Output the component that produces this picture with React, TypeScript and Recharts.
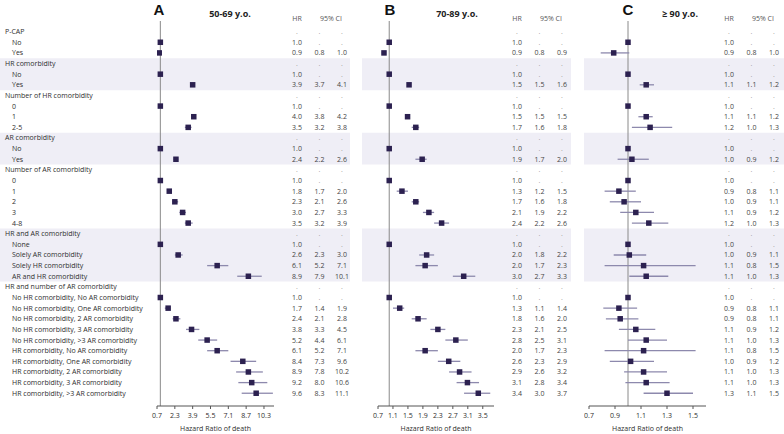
import React from "react";
import {
  ScatterChart,
  Scatter,
  XAxis,
  YAxis,
  ErrorBar,
  ReferenceLine,
  ReferenceArea,
} from "recharts";

const FONT = "'Open Sans', 'DejaVu Sans', sans-serif";
const MARKER = "#2c2150";
const CI_LINE = "#8d89ad";
const BAND = "#efeef6";
const TEXT = "#2e2e2e";

// row labels, top to bottom
const rowLabels = [
  "P-CAP", "No", "Yes",
  "HR comorbidity", "No", "Yes",
  "Number of HR comorbidity", "0", "1", "2-5",
  "AR comorbidity", "No", "Yes",
  "Number of AR comorbidity", "0", "1", "2", "3", "4-8",
  "HR and AR comorbidity", "None", "Solely AR comorbidity", "Solely HR comorbidity", "AR and HR comorbidity",
  "HR and number of AR comorbidity",
  "No HR comorbidity, No AR comorbidity",
  "No HR comorbidity, One AR comorbidity",
  "No HR comorbidity, 2 AR comorbidity",
  "No HR comorbidity, 3 AR comorbidity",
  "No HR comorbidity, >3 AR comorbidity",
  "HR comorbidity, No AR comorbidity",
  "HR comorbidity, One AR comorbidity",
  "HR comorbidity, 2 AR comorbidity",
  "HR comorbidity, 3 AR comorbidity",
  "HR comorbidity, >3 AR comorbidity",
];
const groupRows = [0, 3, 6, 10, 13, 19, 24];
const shadedGroups = [
  [3, 5],
  [10, 12],
  [19, 23],
];

// 50-69 y.o.
const hrA = [null, 1.0, 0.9, null, 1.0, 3.9, null, 1.0, 4.0, 3.5, null, 1.0, 2.4, null, 1.0, 1.8, 2.3, 3.0, 3.5, null, 1.0, 2.6, 6.1, 8.9, null, 1.0, 1.7, 2.4, 3.8, 5.2, 6.1, 8.4, 8.9, 9.2, 9.6];
const loA = [null, null, 0.8, null, null, 3.7, null, null, 3.8, 3.2, null, null, 2.2, null, null, 1.7, 2.1, 2.7, 3.2, null, null, 2.3, 5.2, 7.9, null, null, 1.4, 2.1, 3.3, 4.4, 5.2, 7.3, 7.8, 8.0, 8.3];
const hiA = [null, null, 1.0, null, null, 4.1, null, null, 4.2, 3.8, null, null, 2.6, null, null, 2.0, 2.6, 3.3, 3.9, null, null, 3.0, 7.1, 10.1, null, null, 1.9, 2.8, 4.5, 6.1, 7.1, 9.6, 10.2, 10.6, 11.1];

// 70-89 y.o.
const hrB = [null, 1.0, 0.86, null, 1.0, 1.53, null, 1.0, 1.49, 1.71, null, 1.0, 1.88, null, 1.0, 1.34, 1.71, 2.06, 2.4, null, 1.0, 2.0, 1.96, 2.99, null, 1.0, 1.28, 1.77, 2.3, 2.78, 1.96, 2.59, 2.88, 3.09, 3.38];
const loB = [null, null, 0.8, null, null, 1.48, null, null, 1.46, 1.6, null, null, 1.7, null, null, 1.2, 1.6, 1.9, 2.2, null, null, 1.8, 1.7, 2.7, null, null, 1.1, 1.6, 2.1, 2.5, 1.7, 2.3, 2.6, 2.8, 3.0];
const hiB = [null, null, 0.9, null, null, 1.58, null, null, 1.54, 1.8, null, null, 2.0, null, null, 1.5, 1.8, 2.2, 2.6, null, null, 2.2, 2.3, 3.3, null, null, 1.4, 2.0, 2.5, 3.1, 2.3, 2.9, 3.2, 3.4, 3.7];

// >= 90 y.o.
const hrC = [null, 1.0, 0.89, null, 1.0, 1.14, null, 1.0, 1.14, 1.17, null, 1.0, 1.03, null, 1.0, 0.93, 0.97, 1.06, 1.16, null, 1.0, 1.01, 1.12, 1.14, null, 1.0, 0.93, 0.94, 1.06, 1.14, 1.12, 1.02, 1.12, 1.14, 1.3];
const loC = [null, null, 0.79, null, null, 1.09, null, null, 1.08, 1.03, null, null, 0.92, null, null, 0.82, 0.86, 0.94, 1.03, null, null, 0.89, 0.82, 1.01, null, null, 0.81, 0.83, 0.93, 1.0, 0.82, 0.86, 0.97, 0.98, 1.12];
const hiC = [null, null, 1.01, null, null, 1.2, null, null, 1.19, 1.34, null, null, 1.16, null, null, 1.06, 1.1, 1.2, 1.31, null, null, 1.14, 1.52, 1.31, null, null, 1.07, 1.08, 1.21, 1.3, 1.52, 1.2, 1.3, 1.32, 1.5];

const ticksA = [0.7, 2.3, 3.9, 5.5, 7.1, 8.7, 10.3];
const ticksB = [0.7, 1.1, 1.5, 1.9, 2.3, 2.7, 3.1, 3.5];
const ticksC = [0.7, 0.9, 1.1, 1.3, 1.5];

const rowTicks = [-1, ...rowLabels.map((_, i) => i)];
const Y_DOMAIN = [-1, 35.2];

const fmt = (v: number | null) => (v == null ? "." : v.toFixed(1));

type PanelProps = {
  left: number;
  width: number;
  plotLeft: number;
  plotWidth: number;
  domain: [number, number];
  ticks: number[];
  hr: (number | null)[];
  lo: (number | null)[];
  hi: (number | null)[];
  showLabels?: boolean;
};

function Panel({ left, width, plotLeft, plotWidth, domain, ticks, hr, lo, hi, showLabels }: PanelProps) {
  const rightW = width - plotLeft - plotWidth;
  const unit = plotWidth / (domain[1] - domain[0]);
  const bandX1 = domain[0] - plotLeft / unit;
  const bandX2 = domain[1] + rightW / unit;

  const data = hr
    .map((v, i) =>
      v == null
        ? null
        : {
            x: v,
            y: i,
            err: [lo[i] == null ? 0 : v - (lo[i] as number), hi[i] == null ? 0 : (hi[i] as number) - v],
          }
    )
    .filter(Boolean) as { x: number; y: number; err: number[] }[];

  const labelTick = (p: any) => {
    const i = p.payload.value;
    if (i < 0) return <g />;
    const isGroup = groupRows.includes(i);
    return (
      <text
        x={isGroup ? 5 : 12}
        y={p.y}
        dy="0.35em"
        fontSize={7}
        fill={TEXT}
        style={{ fill: TEXT }}
        fontFamily={FONT}
        textAnchor="start"
      >
        {rowLabels[i]}
      </text>
    );
  };

  const numTick = (p: any) => {
    const i = p.payload.value;
    const x = p.x;
    if (i < 0) {
      return (
        <g fontSize={7} fontFamily={FONT} textAnchor="middle" style={{ fill: "#555" }}>
          <text x={x + 23} y={p.y - 2.5} dy="0.35em">HR</text>
          <text x={x + 57} y={p.y - 2.5} dy="0.35em">95% CI</text>
        </g>
      );
    }
    const col = (v: number | null) => ({ fill: v == null ? "#999" : "#444" });
    return (
      <g fontSize={7} fontFamily={FONT} textAnchor="middle">
        <text x={x + 23} y={p.y} dy="0.35em" style={col(hr[i])}>{fmt(hr[i])}</text>
        <text x={x + 45.5} y={p.y} dy="0.35em" style={col(lo[i])}>{fmt(lo[i])}</text>
        <text x={x + 68} y={p.y} dy="0.35em" style={col(hi[i])}>{fmt(hi[i])}</text>
      </g>
    );
  };

  return (
    <div style={{ position: "absolute", left, top: 0 }}>
      <ScatterChart
        width={width}
        height={434}
        margin={{ top: 21, right: 0, bottom: 0, left: showLabels ? 0 : plotLeft }}
      >
        {shadedGroups.map(([a, b]) => (
          <ReferenceArea
            key={a}
            yAxisId="r"
            x1={bandX1}
            x2={bandX2}
            y1={a - 0.5}
            y2={b + 0.5}
            fill={BAND}
            fillOpacity={1}
            stroke="none"
            ifOverflow="visible"
          />
        ))}
        <XAxis
          dataKey="x"
          type="number"
          domain={domain}
          ticks={ticks}
          interval={0}
          allowDataOverflow
          tickFormatter={(v: number) => v.toFixed(1)}
          tick={{ fontSize: 7, fill: TEXT, fontFamily: FONT }}
          tickSize={3}
          tickMargin={4}
          stroke="#555"
          height={28}
          label={{
            value: "Hazard Ratio of death",
            position: "insideBottom",
            offset: 3,
            fontSize: 7,
            fill: TEXT,
            fontFamily: FONT,
          }}
        />
        {showLabels && (
          <YAxis
            yAxisId="l"
            dataKey="y"
            type="number"
            domain={Y_DOMAIN}
            reversed
            allowDataOverflow
            ticks={rowTicks}
            interval={0}
            width={plotLeft}
            axisLine={false}
            tickLine={false}
            tick={labelTick}
          />
        )}
        <YAxis
          yAxisId="r"
          orientation="right"
          dataKey="y"
          type="number"
          domain={Y_DOMAIN}
          reversed
          allowDataOverflow
          ticks={rowTicks}
          interval={0}
          width={rightW}
          axisLine={false}
          tickLine={false}
          tickSize={0}
          tickMargin={0}
          tick={numTick}
        />
        <ReferenceLine yAxisId="r" x={1} stroke="#8a8a8a" strokeWidth={1} />
        <Scatter
          yAxisId="r"
          data={data}
          isAnimationActive={false}
          shape={(p: any) => (
            <rect x={p.cx - 2.75} y={p.cy - 2.75} width={5.5} height={5.5} fill={MARKER} />
          )}
        >
          <ErrorBar dataKey="err" direction="x" width={0} stroke={CI_LINE} strokeWidth={1.3} isAnimationActive={false} />
        </Scatter>
      </ScatterChart>
    </div>
  );
}

export default function App() {
  return (
    <div style={{ position: "absolute", left: 0, top: 0, width: 784, height: 434, background: "#fff", fontFamily: FONT }}>
      <Panel left={0} width={350} plotLeft={157} plotWidth={117} domain={[0.7, 11.2]} ticks={ticksA} hr={hrA} lo={loA} hi={hiA} showLabels />
      <Panel left={362} width={209} plotLeft={16} plotWidth={116} domain={[0.7, 3.8]} ticks={ticksB} hr={hrB} lo={loB} hi={hiB} />
      <Panel left={584} width={200} plotLeft={5} plotWidth={117} domain={[0.7, 1.6]} ticks={ticksC} hr={hrC} lo={loC} hi={hiC} />
      <svg width={784} height={434} style={{ position: "absolute", left: 0, top: 0, pointerEvents: "none" }}>
        <g fontFamily="'Liberation Sans', Arial, sans-serif" fontWeight="bold" fontSize={15} fill="#111" textAnchor="middle">
          <text x={159} y={14.5}>A</text>
          <text x={390} y={14.5}>B</text>
          <text x={628} y={14.5}>C</text>
        </g>
        <g fontFamily={FONT} fontWeight="bold" fontSize={9} fill="#222" textAnchor="middle">
          <text x={230} y={17}>50-69 y.o.</text>
          <text x={457} y={17}>70-89 y.o.</text>
          <text x={680} y={17}>≥ 90 y.o.</text>
        </g>
      </svg>
    </div>
  );
}
